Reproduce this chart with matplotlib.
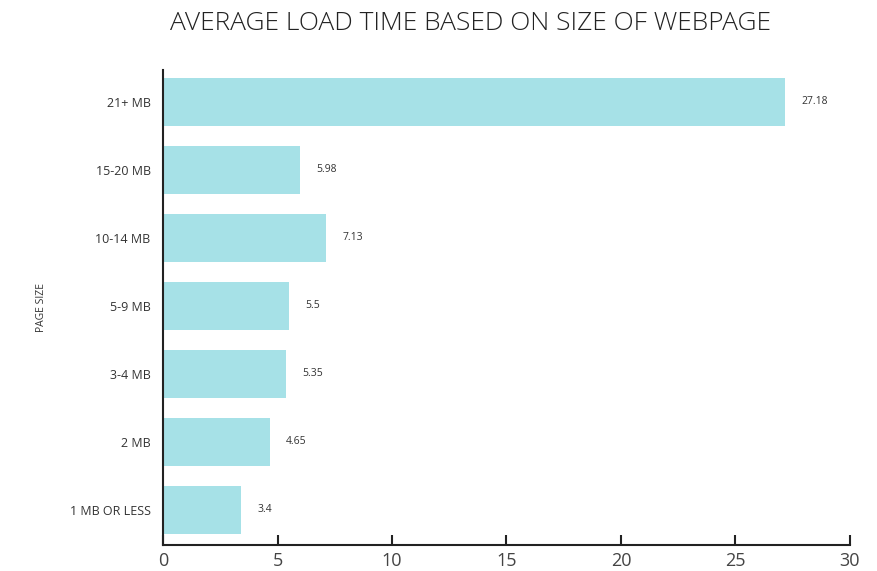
import matplotlib.pyplot as plt

categories = ["1 MB OR LESS", "2 MB", "3-4 MB", "5-9 MB", "10-14 MB", "15-20 MB", "21+ MB"]
load_times = [3.4, 4.65, 5.35, 5.5, 7.13, 5.98, 27.18]
value_labels = ["3.4", "4.65", "5.35", "5.5", "7.13", "5.98", "27.18"]
x_ticks = [0, 5, 10, 15, 20, 25, 30]

plt.rcParams['font.family'] = ['Open Sans', 'DejaVu Sans']
txt = '#333333'

fig = plt.figure(figsize=(8.77, 5.71), dpi=100)
ax = fig.add_axes([0.186, 0.0455, 0.783, 0.832])

ypos = list(range(len(categories)))
ax.barh(ypos, load_times, height=0.71, color='#a6e1e7')

for y, v, lab in zip(ypos, load_times, value_labels):
    ax.annotate(lab, (v, y), xytext=(12, 0), textcoords='offset points',
                va='center', ha='left', fontsize=7.5, color=txt)

ax.set_xlim(0, 30)
ax.set_ylim(-0.52, 6.47)
ax.set_yticks(ypos)
ax.set_yticklabels(categories, fontsize=9, color=txt)
ax.set_xticks(x_ticks)
ax.set_xticklabels([str(t) for t in x_ticks], fontsize=13, color='#444444')
ax.tick_params(axis='y', length=0, pad=9)
ax.tick_params(axis='x', direction='in', length=7, width=1.5, color='#222222', pad=5)

for s in ['top', 'right']:
    ax.spines[s].set_visible(False)
for s in ['left', 'bottom']:
    ax.spines[s].set_linewidth(1.5)
    ax.spines[s].set_color('#222222')

ax.set_ylabel("PAGE SIZE", fontsize=7.5, color=txt, labelpad=16)
fig.suptitle("AVERAGE LOAD TIME BASED ON SIZE OF WEBPAGE", x=0.536, y=0.98,
             fontsize=19, color='#222222', fontweight='light')

fig.savefig("out.png", dpi=100)
